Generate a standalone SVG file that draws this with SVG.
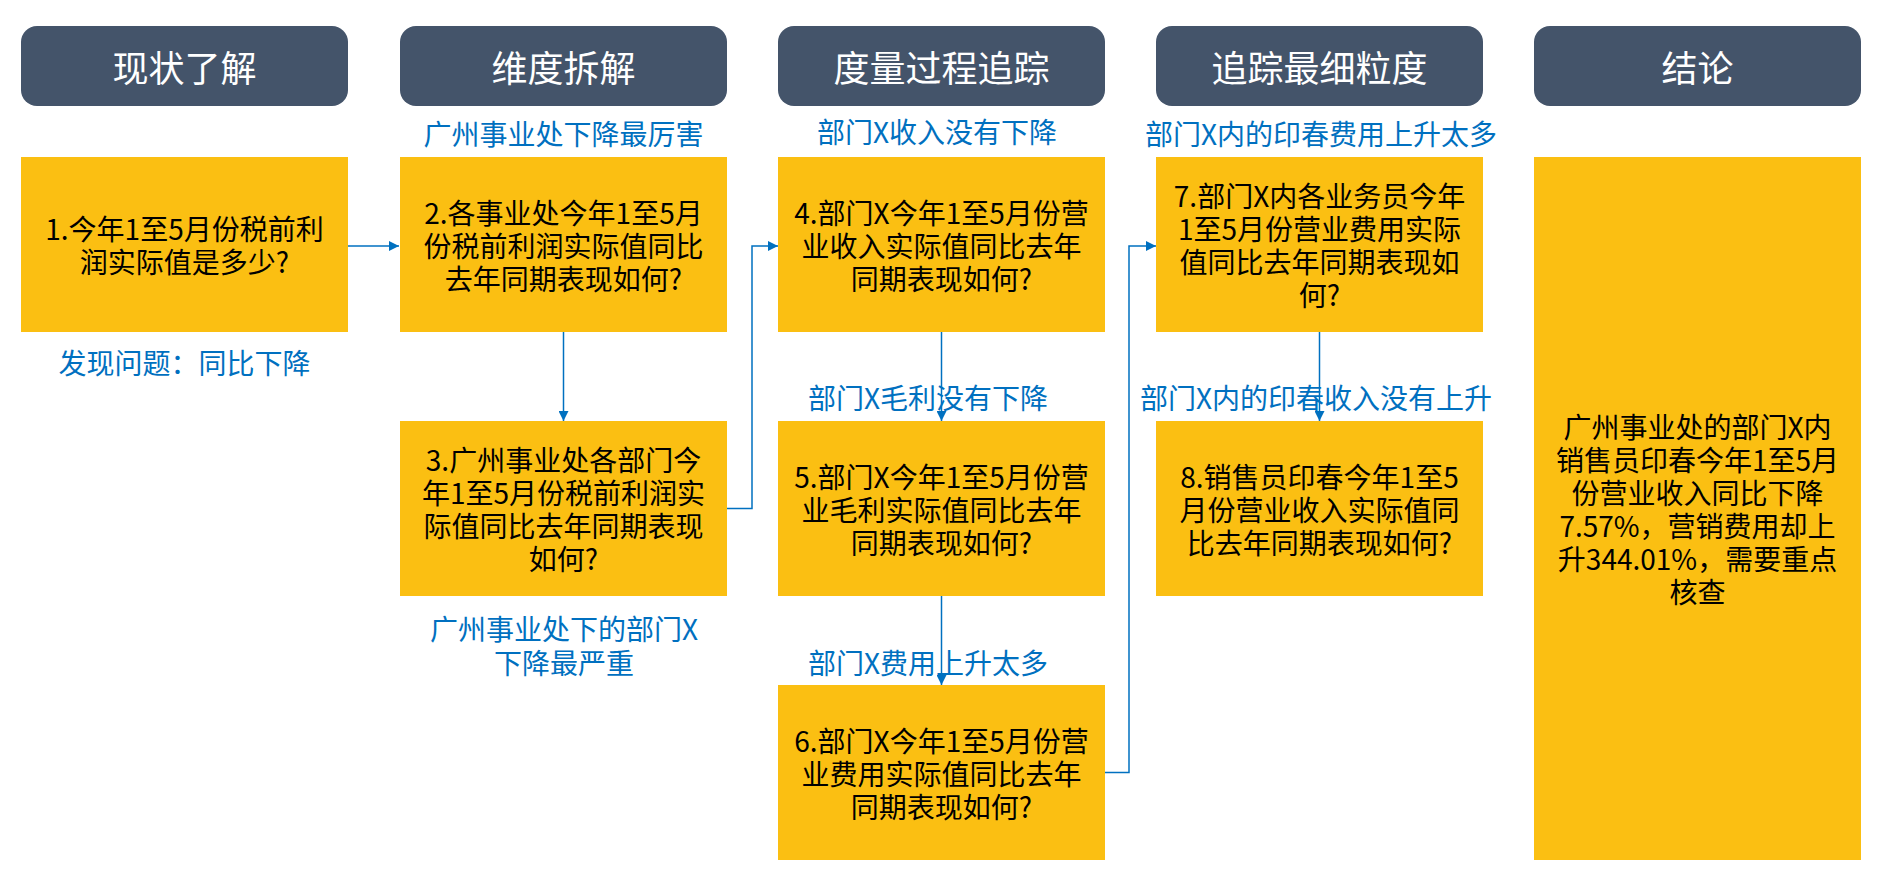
<svg xmlns="http://www.w3.org/2000/svg" width="1881" height="880" viewBox="0 0 1881 880">
<style>
.hdr{fill:#44546A}
.hdrt{fill:#FFFFFF;font-family:"Noto Sans CJK SC","Noto Sans",sans-serif;font-size:36px;text-anchor:middle;dominant-baseline:central}
.box{fill:#FBBF12}
.bt{fill:#000000;font-family:"Noto Sans CJK SC","Noto Sans",sans-serif;font-size:28px;text-anchor:middle;dominant-baseline:central}
.lbl{fill:#0070C0;font-family:"Noto Sans CJK SC","Noto Sans",sans-serif;font-size:28px;text-anchor:middle;dominant-baseline:central}
.con{fill:none;stroke:#0070C0;stroke-width:1.5}
</style>
<defs>
<marker id="arr" viewBox="0 0 10 10" refX="10" refY="5" markerWidth="10" markerHeight="10" markerUnits="userSpaceOnUse" orient="auto">
<path d="M0,0 L10,5 L0,10 z" fill="#0070C0"/>
</marker>
</defs>
<rect width="1881" height="880" fill="#FFFFFF"/>

<g id="headers">
<g id="h1"><rect class="hdr" x="21" y="26" width="327" height="80" rx="16"/><text class="hdrt" x="184.5" y="66">现状了解</text></g>
<g id="h2"><rect class="hdr" x="400" y="26" width="327" height="80" rx="16"/><text class="hdrt" x="563.5" y="66">维度拆解</text></g>
<g id="h3"><rect class="hdr" x="778" y="26" width="327" height="80" rx="16"/><text class="hdrt" x="941.5" y="66">度量过程追踪</text></g>
<g id="h4"><rect class="hdr" x="1156" y="26" width="327" height="80" rx="16"/><text class="hdrt" x="1319.5" y="66">追踪最细粒度</text></g>
<g id="h5"><rect class="hdr" x="1534" y="26" width="327" height="80" rx="16"/><text class="hdrt" x="1697.5" y="66">结论</text></g>
</g>

<g id="connectors">
<path class="con" d="M348,246 H399" marker-end="url(#arr)"/>
<path class="con" d="M563.5,332 V421" marker-end="url(#arr)"/>
<path class="con" d="M727,508.5 H752 V246 H778" marker-end="url(#arr)"/>
<path class="con" d="M941.5,332 V421" marker-end="url(#arr)"/>
<path class="con" d="M941.5,596 V685" marker-end="url(#arr)"/>
<path class="con" d="M1105,772.5 H1129 V246 H1156" marker-end="url(#arr)"/>
<path class="con" d="M1319.5,332 V421" marker-end="url(#arr)"/>
</g>

<g id="n1"><rect class="box" x="21" y="157" width="327" height="175"/>
<text class="bt" x="184.5" y="228">1.今年1至5月份税前利</text>
<text class="bt" x="184.5" y="261">润实际值是多少?</text></g>

<g id="n2"><rect class="box" x="400" y="157" width="327" height="175"/>
<text class="bt" x="563.5" y="211.5">2.各事业处今年1至5月</text>
<text class="bt" x="563.5" y="244.5">份税前利润实际值同比</text>
<text class="bt" x="563.5" y="277.5">去年同期表现如何?</text></g>

<g id="n3"><rect class="box" x="400" y="421" width="327" height="175"/>
<text class="bt" x="563.5" y="459">3.广州事业处各部门今</text>
<text class="bt" x="563.5" y="492">年1至5月份税前利润实</text>
<text class="bt" x="563.5" y="525">际值同比去年同期表现</text>
<text class="bt" x="563.5" y="558">如何?</text></g>

<g id="n4"><rect class="box" x="778" y="157" width="327" height="175"/>
<text class="bt" x="941.5" y="211.5">4.部门X今年1至5月份营</text>
<text class="bt" x="941.5" y="244.5">业收入实际值同比去年</text>
<text class="bt" x="941.5" y="277.5">同期表现如何?</text></g>

<g id="n5"><rect class="box" x="778" y="421" width="327" height="175"/>
<text class="bt" x="941.5" y="475.5">5.部门X今年1至5月份营</text>
<text class="bt" x="941.5" y="508.5">业毛利实际值同比去年</text>
<text class="bt" x="941.5" y="541.5">同期表现如何?</text></g>

<g id="n6"><rect class="box" x="778" y="685" width="327" height="175"/>
<text class="bt" x="941.5" y="739.5">6.部门X今年1至5月份营</text>
<text class="bt" x="941.5" y="772.5">业费用实际值同比去年</text>
<text class="bt" x="941.5" y="805.5">同期表现如何?</text></g>

<g id="n7"><rect class="box" x="1156" y="157" width="327" height="175"/>
<text class="bt" x="1319.5" y="195">7.部门X内各业务员今年</text>
<text class="bt" x="1319.5" y="228">1至5月份营业费用实际</text>
<text class="bt" x="1319.5" y="261">值同比去年同期表现如</text>
<text class="bt" x="1319.5" y="294">何?</text></g>

<g id="n8"><rect class="box" x="1156" y="421" width="327" height="175"/>
<text class="bt" x="1319.5" y="475.5">8.销售员印春今年1至5</text>
<text class="bt" x="1319.5" y="508.5">月份营业收入实际值同</text>
<text class="bt" x="1319.5" y="541.5">比去年同期表现如何?</text></g>

<g id="n9"><rect class="box" x="1534" y="157" width="327" height="703"/>
<text class="bt" x="1697.5" y="426">广州事业处的部门X内</text>
<text class="bt" x="1697.5" y="459">销售员印春今年1至5月</text>
<text class="bt" x="1697.5" y="492">份营业收入同比下降</text>
<text class="bt" x="1697.5" y="525">7.57%，营销费用却上</text>
<text class="bt" x="1697.5" y="558">升344.01%，需要重点</text>
<text class="bt" x="1697.5" y="591">核查</text></g>

<g id="labels">
<text class="lbl" x="563.5" y="133">广州事业处下降最厉害</text>
<text class="lbl" x="937" y="131">部门X收入没有下降</text>
<text class="lbl" x="1321" y="133">部门X内的印春费用上升太多</text>
<text class="lbl" x="184.5" y="362">发现问题：同比下降</text>
<text class="lbl" x="928" y="397">部门X毛利没有下降</text>
<text class="lbl" x="928" y="662">部门X费用上升太多</text>
<text class="lbl" x="564" y="628">广州事业处下的部门X</text>
<text class="lbl" x="564" y="662">下降最严重</text>
<text class="lbl" x="1316" y="397">部门X内的印春收入没有上升</text>
</g>
</svg>
